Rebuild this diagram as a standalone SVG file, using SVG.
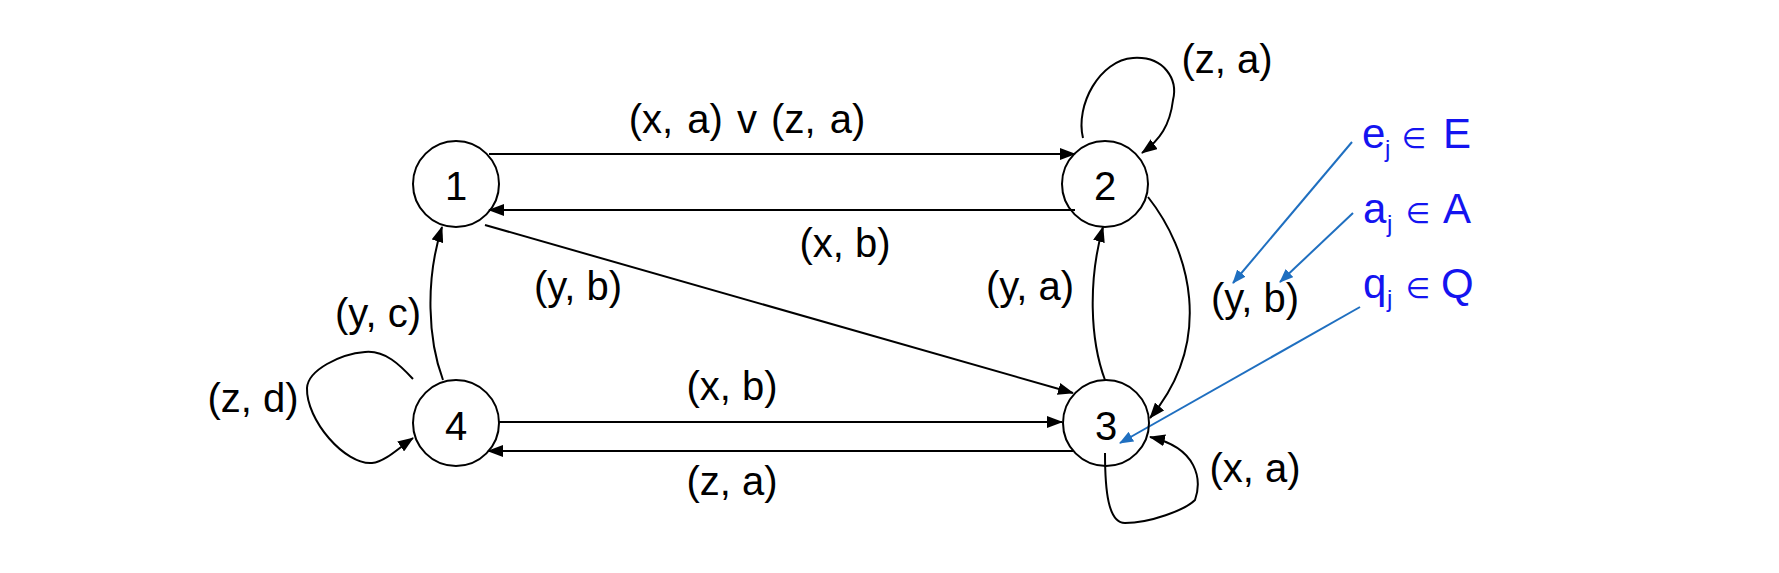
<svg xmlns="http://www.w3.org/2000/svg" width="1779" height="573" viewBox="0 0 1779 573">
<style>
.node circle{fill:none;stroke:#000;stroke-width:2}
.num{font-family:"Liberation Sans",Arial,sans-serif;font-size:40px;fill:#000;text-anchor:middle}
.lbl{font-family:"Liberation Sans",Arial,sans-serif;font-size:40px;fill:#000;text-anchor:middle}
.edge{fill:none;stroke:#000;stroke-width:2;marker-end:url(#ah)}
.bedge{fill:none;stroke:#1f6fc0;stroke-width:2;marker-end:url(#bh)}
.bt{font-family:"Liberation Sans",Arial,sans-serif;font-size:42px;fill:#1414f0}
.bs{font-family:"Liberation Sans",Arial,sans-serif;font-size:24px;fill:#1414f0}
.be{font-family:"DejaVu Sans",sans-serif;font-size:28px;fill:#1414f0;text-anchor:middle}
</style>
<defs>
<marker id="ah" markerUnits="userSpaceOnUse" markerWidth="16" markerHeight="12" refX="15" refY="6" orient="auto"><path d="M0,0 L16,6 L0,12 Z" fill="#000"/></marker>
<marker id="bh" markerUnits="userSpaceOnUse" markerWidth="14" markerHeight="11" refX="13" refY="5.5" orient="auto"><path d="M0,0 L14,5.5 L0,11 Z" fill="#1f6fc0"/></marker>
</defs>
<rect width="1779" height="573" fill="#fff"/>
<g id="connectors">
<path class="edge" d="M489,154 L1075,154"/>
<path class="edge" d="M1075,210 L489,210"/>
<path class="edge" d="M485,225 L1073,393"/>
<path class="edge" d="M499,422 L1062,422"/>
<path class="edge" d="M1073,451 L488,451"/>
<path class="edge" d="M443,380 C428,340 425,280 442,227"/>
<path class="edge" d="M1105,380 C1090,340 1088,280 1103,227"/>
<path class="edge" d="M1148,197 C1190,250 1215,340 1150,418"/>
<path class="edge" d="M1083,138 C1075,105 1100,60 1133,58 C1165,56 1178,80 1173,100 C1170,125 1160,140 1142,153"/>
<path class="edge" d="M413,379 C400,365 385,350 365,352 C340,354 308,370 307,388 C306,420 345,465 372,463 C385,462 400,447 413,438"/>
<path class="edge" d="M1105,453 C1105,490 1108,523 1125,523 C1150,523 1185,510 1195,500 C1202,480 1198,448 1150,437"/>
<path class="bedge" d="M1352,142 L1233,283"/>
<path class="bedge" d="M1353,213 L1280,282"/>
<path class="bedge" d="M1360,307 L1120,443"/>
</g>
<g id="edge-labels">
<text class="lbl" x="747" y="133" word-spacing="3">(x, a) v (z, a)</text>
<text class="lbl" x="845" y="257">(x, b)</text>
<text class="lbl" x="578" y="300">(y, b)</text>
<text class="lbl" x="1030" y="300">(y, a)</text>
<text class="lbl" x="1255" y="312">(y, b)</text>
<text class="lbl" x="1227" y="73">(z, a)</text>
<text class="lbl" x="378" y="327">(y, c)</text>
<text class="lbl" x="253" y="412">(z, d)</text>
<text class="lbl" x="732" y="400">(x, b)</text>
<text class="lbl" x="732" y="495">(z, a)</text>
<text class="lbl" x="1255" y="482">(x, a)</text>
</g>
<g id="node1" class="node"><circle cx="456" cy="184" r="43"/><text class="num" x="456" y="200">1</text></g>
<g id="node2" class="node"><circle cx="1105" cy="184" r="43"/><text class="num" x="1105" y="200">2</text></g>
<g id="node3" class="node"><circle cx="1106" cy="423" r="43"/><text class="num" x="1106" y="440">3</text></g>
<g id="node4" class="node"><circle cx="456" cy="423" r="43"/><text class="num" x="456" y="440">4</text></g>
<g id="legend">
<text><tspan class="bt" x="1362" y="148">e</tspan><tspan class="bs" x="1385" y="157">j</tspan><tspan class="be" x="1414" y="148">∈</tspan><tspan class="bt" x="1443" y="148">E</tspan></text>
<text><tspan class="bt" x="1363" y="223">a</tspan><tspan class="bs" x="1387" y="232">j</tspan><tspan class="be" x="1418" y="223">∈</tspan><tspan class="bt" x="1443" y="223">A</tspan></text>
<text><tspan class="bt" x="1363" y="298">q</tspan><tspan class="bs" x="1387" y="307">j</tspan><tspan class="be" x="1418" y="298">∈</tspan><tspan class="bt" x="1441" y="298">Q</tspan></text>
</g>
</svg>
